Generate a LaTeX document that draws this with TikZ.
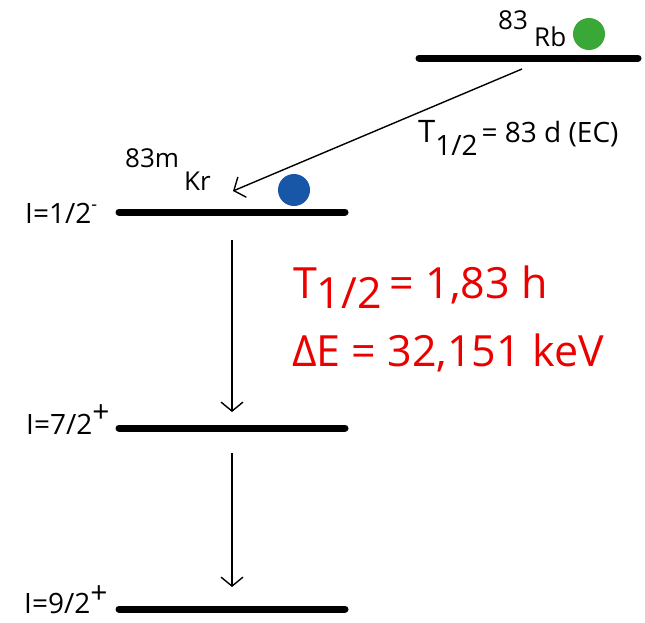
\documentclass[tikz,border=0pt]{standalone}
\usepackage{fontspec}
\setmainfont{Open Sans}
\usetikzlibrary{arrows.meta}
\definecolor{dotgreen}{RGB}{57,168,55}
\definecolor{dotblue}{RGB}{24,86,168}
\definecolor{txtred}{RGB}{235,0,0}
\begin{document}
\begin{tikzpicture}[x=1pt,y=-1pt,
  level/.style={line width=7pt, line cap=round},
  trans/.style={line width=1.4pt, -{Straight Barb[length=9pt,width=22pt,line width=1.4pt]}},
  lbl/.style={inner sep=0pt, anchor=base west, font=\fontsize{26}{30}\selectfont},
  big/.style={inner sep=0pt, anchor=base west, text=txtred, font=\fontsize{43}{48}\selectfont},
  dot/.style={circle, inner sep=0pt, minimum size=32pt}]
\useasboundingbox (0,0) rectangle (645,622);

% levels
\coordinate (rbL) at (419,58);  \coordinate (rbR) at (638,58);
\coordinate (krL) at (119,212); \coordinate (krR) at (345,212);
\coordinate (sL) at (119,428);  \coordinate (sR) at (345,428);
\coordinate (gL) at (119,609);  \coordinate (gR) at (345,609);
\draw[level] (rbL) -- (rbR);
\draw[level] (krL) -- (krR);
\draw[level] (sL) -- (sR);
\draw[level] (gL) -- (gR);

% dots
\node[dot, fill=dotgreen] (rbdot) at (589,34) {};
\node[dot, fill=dotblue] (krdot) at (294,190) {};

% transitions
\coordinate (ecA) at (522,69);  \coordinate (ecB) at (233,191);
\coordinate (g1A) at (232,240); \coordinate (g1B) at (232,412);
\coordinate (g2A) at (232,453); \coordinate (g2B) at (232,587);
\draw[trans] (ecA) -- (ecB);
\draw[trans] (g1A) -- (g1B);
\draw[trans] (g2A) -- (g2B);

% labels
\node[lbl] (rbmass) at (498,29) {83};
\node[lbl] (rbname) at (534,46) {Rb};
\node[lbl] (krmass) at (125,167) {83m};
\node[lbl] (krname) at (184,190) {Kr};
\node[lbl, font=\fontsize{28}{30}\selectfont] (ec) at (418,142) {{\fontsize{31}{32}\selectfont T}\raisebox{-13pt}{1/2}\hspace{4pt}= 83 d (EC)};

\node[lbl, font=\fontsize{28}{32}\selectfont] (spin1) at (25,223) {I=1/2\raisebox{13pt}{\fontsize{18}{18}\selectfont -}};
\node[lbl, font=\fontsize{28}{32}\selectfont] (spin2) at (26,434) {I=7/2\raisebox{12pt}{\fontsize{30}{30}\selectfont +}};
\node[lbl, font=\fontsize{28}{32}\selectfont] (spin3) at (24,613) {I=9/2\raisebox{10pt}{\fontsize{30}{30}\selectfont +}};

\node[big] (thalf) at (293,298) {T\raisebox{-10pt}{1/2}\hspace{8pt}= 1,83 h};
\node[big] (de) at (292,366) {ΔE = 32,151 keV};
\end{tikzpicture}
\end{document}
